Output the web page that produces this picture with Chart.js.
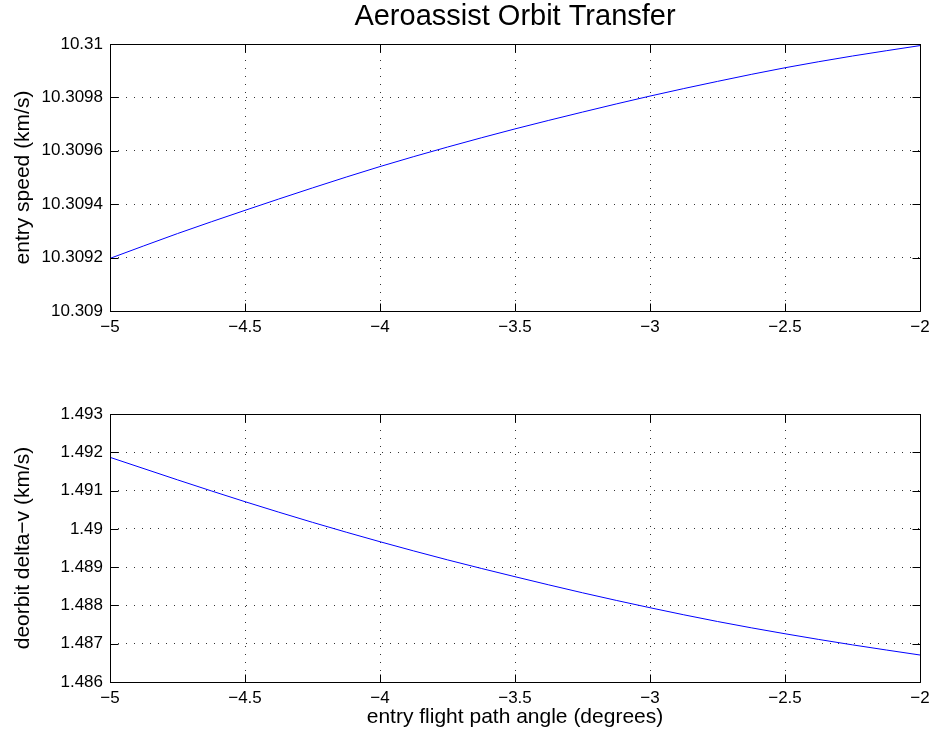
<!DOCTYPE html>
<html>
<head>
<meta charset="utf-8">
<title>Aeroassist Orbit Transfer</title>
<script src="https://cdn.jsdelivr.net/npm/chart.js@4.4.0/dist/chart.umd.min.js"></script>
<style>
  html, body { margin: 0; padding: 0; background: #fff; }
  #wrap { position: relative; width: 930px; height: 738px; }
  .panel { position: absolute; left: 0; width: 930px; height: 369px; }
</style>
</head>
<body>
<div id="wrap">
  <div class="panel" style="top:0"><canvas id="speedChart"></canvas></div>
  <div class="panel" style="top:369px"><canvas id="deltaChart"></canvas></div>
</div>
<script>
// entry flight path angle (degrees)
const angles = [-5, -4.75, -4.5, -4.25, -4, -3.75, -3.5, -3.25, -3, -2.75, -2.5, -2.25, -2];
// entry speed (km/s)
const entrySpeed = [10.309197, 10.309290, 10.309377, 10.309461, 10.309541, 10.309614, 10.309682,
  10.309745, 10.309805, 10.309860, 10.309911, 10.309955, 10.309994];
// deorbit delta-v (km/s)
const deorbitDv = [1.491868, 1.49128, 1.49071, 1.49017, 1.489664, 1.48919, 1.48875,
  1.48833, 1.48794, 1.48758, 1.48726, 1.48697, 1.486705];

const angleTicks = [-5, -4.5, -4, -3.5, -3, -2.5, -2];
const angleTickLabels = ['−5', '−4.5', '−4', '−3.5', '−3', '−2.5', '−2'];
const speedTicks = [10.309, 10.3092, 10.3094, 10.3096, 10.3098, 10.31];
const speedTickLabels = ['10.309', '10.3092', '10.3094', '10.3096', '10.3098', '10.31'];
const dvTicks = [1.486, 1.487, 1.488, 1.489, 1.49, 1.491, 1.492, 1.493];
const dvTickLabels = ['1.486', '1.487', '1.488', '1.489', '1.49', '1.491', '1.492', '1.493'];

const FONT = "'Liberation Sans', Arial, Helvetica, sans-serif";
Chart.defaults.font.family = FONT;
Chart.defaults.color = '#000';

// matlab style box with inward ticks on all four sides
const boxPlugin = {
  id: 'box',
  afterDraw(chart) {
    const { ctx, chartArea: a, scales: { x, y } } = chart;
    const L = Math.round(a.left) + 0.5, R = Math.round(a.right) + 0.5;
    const T = Math.round(a.top) + 0.5, B = Math.round(a.bottom) + 0.5;
    const len = 8;
    ctx.save();
    ctx.strokeStyle = '#000';
    ctx.lineWidth = 1;
    ctx.beginPath();
    x.ticks.forEach(t => {
      const px = Math.round(x.getPixelForValue(t.value)) + 0.5;
      ctx.moveTo(px, T); ctx.lineTo(px, T + len);
      ctx.moveTo(px, B); ctx.lineTo(px, B - len);
    });
    y.ticks.forEach(t => {
      const py = Math.round(y.getPixelForValue(t.value)) + 0.5;
      ctx.moveTo(L, py); ctx.lineTo(L + len, py);
      ctx.moveTo(R, py); ctx.lineTo(R - len, py);
    });
    ctx.rect(L, T, R - L, B - T);
    ctx.stroke();

    // axes title, centred over the plot box like matlab does
    const title = chart.options.plugins.box && chart.options.plugins.box.title;
    if (title) {
      ctx.fillStyle = '#000';
      ctx.font = '29px ' + FONT;
      ctx.textAlign = 'center';
      ctx.textBaseline = 'alphabetic';
      ctx.fillText(title, (a.left + a.right) / 2, 25);
    }
    ctx.restore();
  }
};

function makeChart(id, values, yTicks, yLabels, cfg) {
  return new Chart(document.getElementById(id), {
    type: 'line',
    data: {
      datasets: [{
        data: angles.map((a, i) => ({ x: a, y: values[i] })),
        borderColor: '#0000ff',
        borderWidth: 1,
        pointRadius: 0,
        cubicInterpolationMode: 'monotone',
        fill: false,
      }],
    },
    options: {
      responsive: true,
      maintainAspectRatio: false,
      animation: false,
      layout: { padding: { left: 0, right: 10, top: cfg.padTop, bottom: 0 } },
      plugins: {
        legend: { display: false },
        tooltip: { enabled: false },
        title: { display: false },
        box: { title: cfg.title || '' },
      },
      scales: {
        x: {
          type: 'linear',
          min: -5,
          max: -2,
          afterBuildTicks: (s) => { s.ticks = angleTicks.map(v => ({ value: v })); },
          afterFit: (s) => { s.height = cfg.xHeight; s.paddingLeft = 0; s.paddingRight = 0; },
          ticks: {
            padding: 6,
            font: { size: 17 },
            color: '#000',
            callback: (v, i) => angleTickLabels[i],
          },
          grid: { color: '#333', lineWidth: 1, drawTicks: false },
          border: { display: false, dash: [1, 7] },
          title: cfg.xTitle ? {
            display: true,
            text: cfg.xTitle,
            color: '#000',
            font: { size: 21 },
            padding: { top: 0, bottom: 8 },
          } : { display: false },
        },
        y: {
          min: yTicks[0],
          max: yTicks[yTicks.length - 1],
          afterBuildTicks: (s) => { s.ticks = yTicks.map(v => ({ value: v })); },
          afterFit: (s) => { s.width = 110; s.paddingTop = 0; s.paddingBottom = 0; },
          ticks: {
            padding: 7,
            font: { size: 17 },
            color: '#000',
            callback: (v, i) => yLabels[i],
          },
          grid: { color: '#333', lineWidth: 1, drawTicks: false },
          border: { display: false, dash: [1, 7] },
          title: {
            display: true,
            text: cfg.yTitle,
            color: '#000',
            font: { size: 21 },
            padding: { top: 11, bottom: 0 },
          },
        },
      },
    },
    plugins: [boxPlugin],
  });
}

makeChart('speedChart', entrySpeed, speedTicks, speedTickLabels, {
  title: 'Aeroassist Orbit Transfer',
  padTop: 44,
  xHeight: 58,
  yTitle: 'entry speed (km/s)',
});

makeChart('deltaChart', deorbitDv, dvTicks, dvTickLabels, {
  padTop: 45,
  xHeight: 56,
  yTitle: 'deorbit delta−v (km/s)',
  xTitle: 'entry flight path angle (degrees)',
});
</script>
</body>
</html>
